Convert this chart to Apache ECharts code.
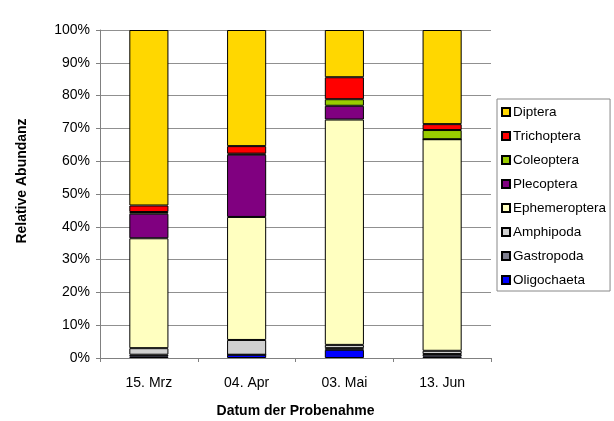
<!DOCTYPE html>
<html>
<head>
<meta charset="utf-8">
<script src="https://cdn.jsdelivr.net/npm/echarts@6/dist/echarts.min.js"></script>
<style>html,body{margin:0;padding:0;background:#fff;}#c{width:614px;height:421px;}</style>
</head>
<body>
<div id="c"></div>
<script>
var categories = ['15. Mrz', '04. Apr', '03. Mai', '13. Jun'];
var yTicks = [0, 10, 20, 30, 40, 50, 60, 70, 80, 90, 100];
var oligochaeta   = [0.5, 1.0, 2.5, 0.5];
var gastropoda    = [0.5, 0.0, 0.5, 0.7];
var amphipoda     = [2.0, 4.5, 1.0, 1.0];
var ephemeroptera = [33.5, 37.5, 68.7, 64.5];
var plecoptera    = [7.5, 19.0, 4.2, 0.0];
var coleoptera    = [0.5, 0.3, 2.0, 2.8];
var trichoptera   = [2.0, 2.3, 6.7, 1.8];
var diptera       = [53.5, 35.4, 14.4, 28.7];

var seriesDefs = [
  ['Oligochaeta', oligochaeta, '#0000ff'],
  ['Gastropoda', gastropoda, '#7f7f8f'],
  ['Amphipoda', amphipoda, '#d0d0d0'],
  ['Ephemeroptera', ephemeroptera, '#ffffc0'],
  ['Plecoptera', plecoptera, '#800080'],
  ['Coleoptera', coleoptera, '#99cc00'],
  ['Trichoptera', trichoptera, '#ff0000'],
  ['Diptera', diptera, '#ffd700']
];

var chart = echarts.init(document.getElementById('c'), null, {renderer: 'canvas'});
var font = 'Liberation Sans, Arial, sans-serif';
chart.setOption({
  animation: false,
  backgroundColor: '#ffffff',
  textStyle: {fontFamily: font},
  grid: {left: 100, right: 123, top: 30, bottom: 63, containLabel: false, outerBoundsMode: 'none'},
  legend: {
    orient: 'vertical',
    left: 497, top: 99,
    backgroundColor: '#ffffff',
    borderColor: '#888888',
    borderWidth: 1,
    borderRadius: 0,
    padding: [6, 4, 4, 4],
    itemWidth: 8, itemHeight: 8, itemGap: 10,
    icon: 'rect',
    textStyle: {fontFamily: font, fontSize: 13.5, color: '#000', padding: [0, 0, 0, -2]},
    data: ['Diptera', 'Trichoptera', 'Coleoptera', 'Plecoptera', 'Ephemeroptera', 'Amphipoda', 'Gastropoda', 'Oligochaeta']
  },
  xAxis: {
    type: 'category',
    data: categories,
    name: 'Datum der Probenahme',
    nameLocation: 'middle',
    nameGap: 46,
    nameTextStyle: {fontFamily: font, fontSize: 14, fontWeight: 'bold', color: '#000'},
    axisLine: {lineStyle: {color: '#808080'}},
    axisTick: {show: true, lineStyle: {color: '#808080'}, length: 4},
    axisLabel: {fontFamily: font, fontSize: 14, color: '#000', margin: 18}
  },
  yAxis: {
    type: 'value',
    min: 0, max: 100, interval: 10,
    axisLine: {show: true, lineStyle: {color: '#808080'}},
    axisTick: {show: true, length: 4, lineStyle: {color: '#808080'}},
    axisLabel: {fontFamily: font, fontSize: 14, color: '#000', margin: 10,
      formatter: function (v) { return yTicks.indexOf(v) >= 0 ? v + '%' : ''; }},
    splitLine: {show: true, lineStyle: {color: '#909090', width: 1}}
  },
  graphic: [{
    type: 'text',
    x: 22, y: 181,
    rotation: Math.PI / 2,
    style: {text: 'Relative Abundanz', font: 'bold 14px ' + font, fill: '#000', align: 'center', verticalAlign: 'middle'}
  }],
  series: seriesDefs.map(function (d) {
    return {
      name: d[0],
      type: 'bar',
      stack: 'total',
      data: d[1],
      barWidth: '40%',
      itemStyle: {color: d[2], borderColor: '#000', borderWidth: 1}
    };
  })
});
</script>
</body>
</html>
